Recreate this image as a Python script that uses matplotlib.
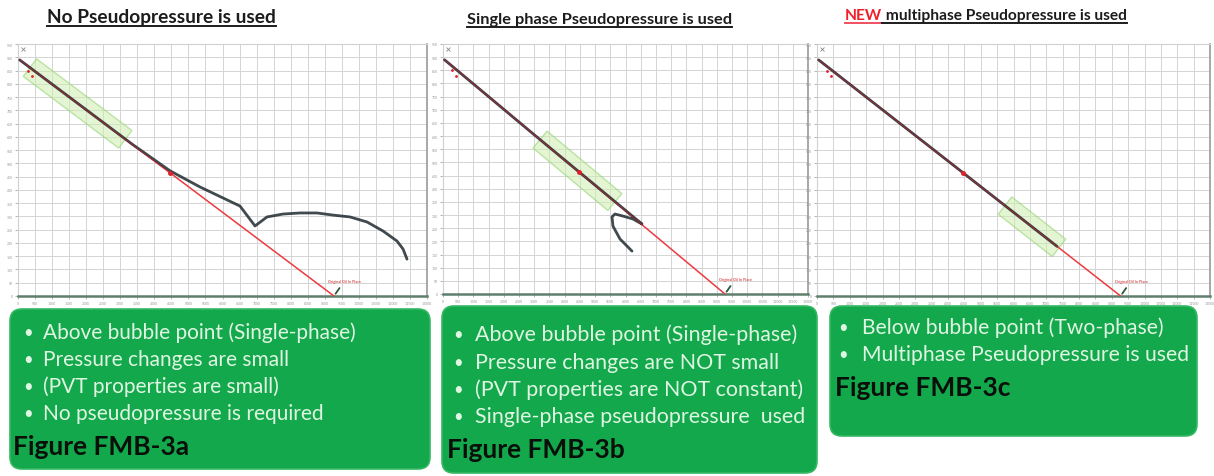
import matplotlib
matplotlib.use("Agg")
import matplotlib.pyplot as plt
import numpy as np
from matplotlib.patches import FancyBboxPatch, Polygon

plt.rcParams["font.family"] = ["Lato", "DejaVu Sans"]

W, H = 1214, 477

# ---------------------------------------------------------------------------
# Data
# ---------------------------------------------------------------------------
x_ticks = list(range(0, 12001, 500))
y_ticks = list(range(0, 951, 50))

# straight material-balance line, same for the three cases
line_x = [50, 9270]
line_y = [890, 0]
point_x = [4460]
point_y = [464]

# black curve, case a: no pseudopressure
curve_a_x = [50, 3374, 4460, 5340, 6514, 6954, 7306, 7776, 8275, 8773,
             9243, 9742, 10241, 10710, 11121, 11297, 11414]
curve_a_y = [890, 570, 472, 411, 339, 264, 298, 309, 313, 313,
             305, 298, 279, 245, 207, 177, 139]

# case b: single-phase pseudopressure
curve_b_x = [50, 3000, 6542, 6246, 5917, 5654, 5556, 5588, 5819, 6213]
curve_b_y = [890, 605, 266, 285, 296, 304, 293, 258, 209, 163]

# case c: multiphase pseudopressure
curve_c_x = [50, 3700, 7330]
curve_c_y = [890, 538, 187]

# highlighted stretch of the line (x range)
highlight_a = (350, 3150)
highlight_b = (3190, 5650)
highlight_c = (5740, 7390)

titles = ["No Pseudopressure is used",
          "Single phase Pseudopressure is used",
          "multiphase Pseudopressure is used"]

bullets_a = ["Above bubble point (Single-phase)",
             "Pressure changes are small",
             "(PVT properties are small)",
             "No pseudopressure is required"]
bullets_b = ["Above bubble point (Single-phase)",
             "Pressure changes are NOT small",
             "(PVT properties are NOT constant)",
             "Single-phase pseudopressure  used"]
bullets_c = ["Below bubble point (Two-phase)",
             "Multiphase Pseudopressure is used"]
fig_labels = ["Figure FMB-3a", "Figure FMB-3b", "Figure FMB-3c"]

GREEN = "#13a84c"

fig = plt.figure(figsize=(W / 100, H / 100), dpi=100)
fig.patch.set_facecolor("white")


def px_axes(left, top, right, bottom):
    return fig.add_axes([left / W, 1 - bottom / H, (right - left) / W, (bottom - top) / H])


def line_at(x):
    return np.interp(x, line_x, line_y)


def highlight(ax, xr, half_w):
    # rotated box around the line between two x values, half width in pixels
    p0 = ax.transData.transform((xr[0], line_at(xr[0])))
    p1 = ax.transData.transform((xr[1], line_at(xr[1])))
    d = (p1 - p0) / np.hypot(*(p1 - p0))
    n = np.array([-d[1], d[0]]) * half_w
    corners = np.array([p0 + n, p1 + n, p1 - n, p0 - n])
    corners = ax.transData.inverted().transform(corners)
    ax.add_patch(Polygon(corners, closed=True, facecolor="#cdeeb0", alpha=0.55,
                         edgecolor="#8fd16a", lw=1.0, zorder=2))


def draw_panel(box, cx, cy, hl):
    ax = px_axes(*box)
    ax.set_xlim(0, 12000)
    ax.set_ylim(0, 950)
    ax.set_xticks(x_ticks)
    ax.set_yticks(y_ticks)
    ax.set_xticklabels([str(v) for v in x_ticks], fontsize=2.5, color="#666")
    ax.set_yticklabels([str(v) for v in y_ticks], fontsize=2.5, color="#666")
    ax.tick_params(length=2, width=0.5, colors="#999", pad=1.5)
    ax.grid(True, color="#d4d4d4", lw=0.7)
    ax.set_axisbelow(True)
    for s in ["left", "top"]:
        ax.spines[s].set_color("#d0d0d0")
    ax.spines["right"].set_color("#9a9a9a")
    ax.spines["right"].set_linewidth(1.2)
    ax.spines["bottom"].set_color("#5f7f6c")
    ax.spines["bottom"].set_linewidth(1.8)

    highlight(ax, hl, 11)
    ax.plot(line_x, line_y, color="#f0484f", lw=1.1, zorder=3)
    ax.plot(cx, cy, color="#1e2a30", lw=2.0, alpha=0.85, zorder=4,
            solid_joinstyle="round", solid_capstyle="round")
    ax.plot(line_x, line_y, color="#e8303a", lw=0.6, alpha=0.6, zorder=5)
    ax.plot(point_x, point_y, "o", color="#e0202a", ms=2.5, zorder=6)
    ax.plot([150], [930], "x", color="#888", ms=2.5, mew=0.6, zorder=6)
    ax.plot([300, 420], [850, 830], ".", color="#e0202a", ms=2, zorder=6)
    ax.annotate("Original Oil In Place", xy=(line_x[1], 0),
                xytext=(-6, 14), textcoords="offset pixels",
                fontsize=2.8, color="#d02020",
                arrowprops=dict(arrowstyle="-", color="#2d5a3a", lw=1.3), zorder=7)
    return ax


draw_panel((18, 45, 427, 297), curve_a_x, curve_a_y, highlight_a)
draw_panel((443, 45, 808, 295), curve_b_x, curve_b_y, highlight_b)
draw_panel((817, 45, 1210, 297), curve_c_x, curve_c_y, highlight_c)

# overlay in pixel coordinates for titles and text boxes
ov = fig.add_axes([0, 0, 1, 1], zorder=10)
ov.set_xlim(0, W)
ov.set_ylim(H, 0)
ov.axis("off")
ov.patch.set_alpha(0)

boxes = [(10, 310, 430, 470), (442, 307, 817, 474), (830, 307, 1197, 437)]
for x0, y0, x1, y1 in boxes:
    ov.add_patch(FancyBboxPatch((x0 + 12, y0 + 12), x1 - x0 - 24, y1 - y0 - 24,
                                boxstyle="round,pad=12", facecolor=GREEN,
                                edgecolor="#34b862", lw=1.2))

TXT = "#dff6e2"


def bullet_block(lines, xb, xt, ys, size):
    for s, y in zip(lines, ys):
        ov.text(xb, y, "\u2022", color=TXT, fontsize=12, va="center")
        ov.text(xt, y, s, color=TXT, fontsize=size, va="center")


bullet_block(bullets_a, 23, 43, [333, 360, 387, 414], 15.0)
bullet_block(bullets_b, 453, 475, [335, 363, 390, 417], 15.4)
bullet_block(bullets_c, 838, 862, [328, 355], 15.2)

ov.text(13, 447, fig_labels[0], fontsize=19, fontweight="bold", color="#0a0f0a", va="center")
ov.text(447, 450, fig_labels[1], fontsize=19, fontweight="bold", color="#0a0f0a", va="center")
ov.text(835, 388, fig_labels[2], fontsize=19, fontweight="bold", color="#0a0f0a", va="center")

fig.canvas.draw()
renderer = fig.canvas.get_renderer()
inv = ov.transData.inverted()


def underline(t, color):
    bb = t.get_window_extent(renderer)
    (xa, ya), (xb, _) = inv.transform([(bb.x0, bb.y0), (bb.x1, bb.y0)])
    ov.plot([xa, xb], [ya + 0.5, ya + 0.5], color=color, lw=1.4)
    return bb


t1 = ov.text(47, 18, titles[0], fontsize=13.8, fontweight="bold", color="#1c1c1c", va="center")
underline(t1, "#1c1c1c")
t2 = ov.text(467, 20, titles[1], fontsize=11.8, fontweight="bold", color="#1c1c1c", va="center")
underline(t2, "#1c1c1c")
t3a = ov.text(845, 16, "NEW", fontsize=11.2, fontweight="bold", color="#f0202a", va="center")
bb = underline(t3a, "#f05060")
x_next = inv.transform((bb.x1, bb.y0))[0]
t3b = ov.text(x_next, 16, " " + titles[2], fontsize=11.2, fontweight="bold",
              color="#1c1c1c", va="center")
underline(t3b, "#1c1c1c")

fig.savefig("out.png", dpi=100)
